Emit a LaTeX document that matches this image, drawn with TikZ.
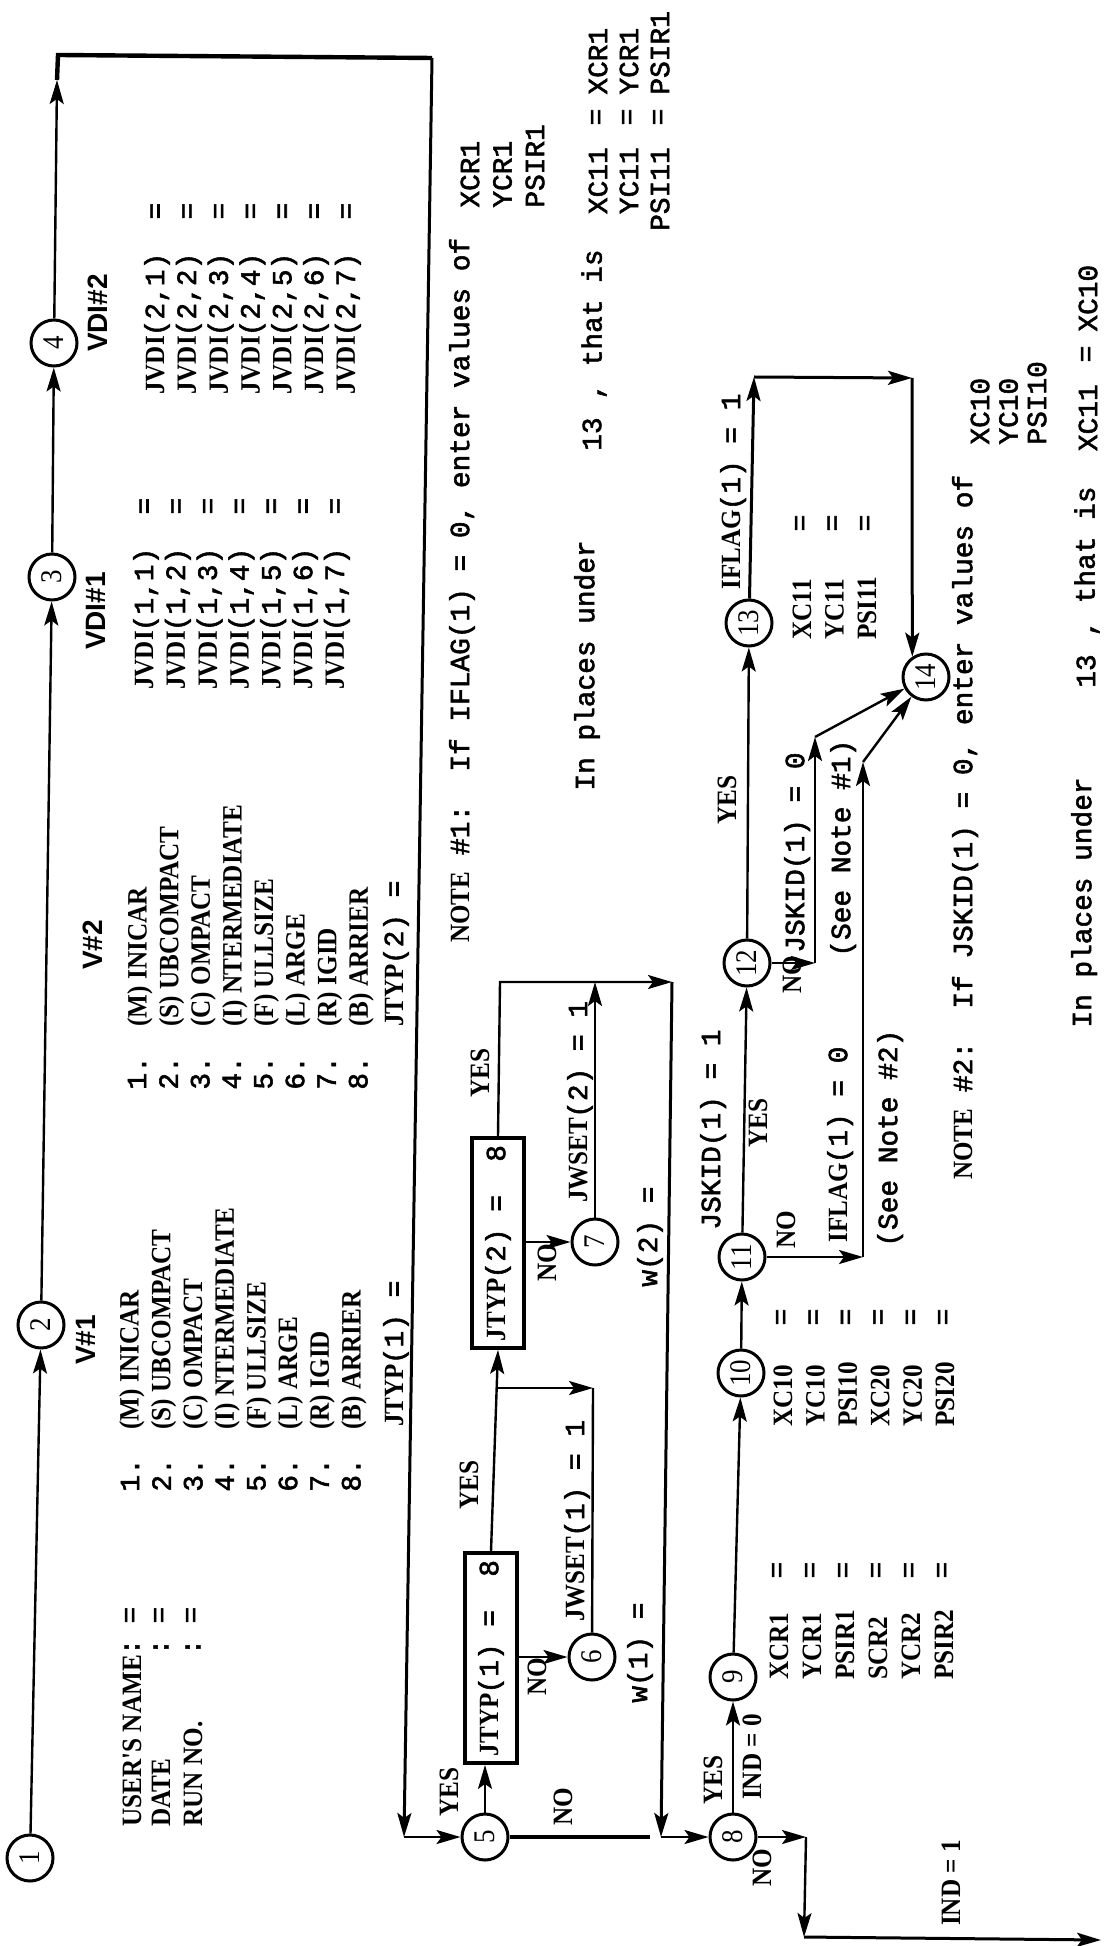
\documentclass[tikz,border=0pt]{standalone}
\usepackage{fontspec}
\usepackage{graphicx}
\usepackage{tikz}
\usetikzlibrary{arrows.meta,calc}
\newfontfamily\twfont[FakeBold=2]{Liberation Mono}
\newfontfamily\cndfont[FakeStretch=0.9]{Liberation Serif}
\newfontfamily\vdifont{Liberation Sans}
\newcommand{\cnd}[1]{{\cndfont\bfseries #1}}
\newcommand{\upr}[1]{\rotatebox{90}{#1}}
\tikzset{
  crc/.style={circle,draw,line width=1.5pt,minimum size=23pt,inner sep=0pt,
    font=\cndfont\fontsize{15}{15}\selectfont},
  cbox/.style={rectangle,draw,line width=1.9pt,minimum width=26pt,minimum height=105pt,
    inner sep=0pt,font=\twfont\fontsize{13.9}{16}\selectfont},
  ar/.style={-{Stealth[length=12pt,width=7pt,inset=2.5pt]},line width=1.2pt},
  ln/.style={line width=1.2pt},
  fr/.style={line width=2.2pt},
  tw/.style={rotate=90,anchor=west,inner sep=0pt,font=\twfont\fontsize{13.9}{16}\selectfont},
  cn/.style={rotate=90,inner sep=0pt,font=\cndfont\bfseries\fontsize{14}{16}\selectfont},
  vl/.style={rotate=90,inner sep=0pt,font=\vdifont\bfseries\fontsize{14}{16}\selectfont},
}
\begin{document}
\begin{tikzpicture}[x=0.5pt,y=-0.5pt]
  \fill[white] (0,0) rectangle (1104,1946);
  \path[use as bounding box] (0,0) rectangle (1104,1946);

  \foreach \n/\x/\y in {1/30/1858,2/41/1325,3/52/577,4/54/343,5/485/1837,6/592/1657,
      7/595/1242,8/733/1837,9/733/1677,10/741/1373,11/742/1257,12/747/963,13/749/623,14/926/677}
    \node[crc] (n\n) at (\x,\y) {\upr{\n}};
  \node[cbox] (b1) at (491,1658) {\upr{\cnd{JTYP}(1)~=~~8}};
  \node[cbox] (b2) at (498,1243) {\upr{\cnd{JTYP}(2)~=~~8}};

  \coordinate (c1a) at (57,80);
  \coordinate (c1) at (58,55);
  \coordinate (c2) at (432,58);
  \coordinate (c3) at (404,1837);
  \coordinate (k5) at (650,1837);
  \coordinate (j1) at (496,1388);
  \coordinate (j1r) at (593,1388);
  \coordinate (y2) at (500,982);
  \coordinate (w2) at (672,982);
  \coordinate (w1) at (661,1837);
  \coordinate (k8) at (806,1837);
  \coordinate (k8b) at (804,1937);
  \coordinate (k8c) at (1101,1940);
  \coordinate (k11) at (863,1257);
  \coordinate (k11b) at (863,762);
  \coordinate (k12) at (815,963);
  \coordinate (k12b) at (815,737);
  \coordinate (k13) at (754,377);
  \coordinate (k13b) at (912,378);

  \node[vl] at (86,1340) {V\#1};
  \node[vl] at (93,945) {V\#2};
  \node[vl] at (96,611) {VDI\#1};
  \node[vl] at (98,313) {VDI\#2};

  \foreach \t/\x in {USER'S NAME/132,DATE/161,RUN NO./193} {
    \node[cn,anchor=west] at (\x,1827) {\t};
    \node[tw,anchor=center] at (\x,1647) {:};
    \node[tw,anchor=center] at (\x,1615) {=};
  }
  \foreach \i in {1,...,8} {
    \node[tw] at ({130+31.6*(\i-1)},1492) {\i.};
    \node[tw] at ({137+31.6*(\i-1)},1090) {\i.};
  }
  \foreach \t [count=\i from 0] in {{(M) INICAR},{(S) UBCOMPACT},{(C) OMPACT},{(I) NTERMEDIATE},
      {(F) ULLSIZE},{(L) ARGE},{(R) IGID},{(B) ARRIER}} {
    \node[cn,anchor=west] at ({132+31.7*\i},1430) {\t};
    \node[cn,anchor=west] at ({140+31.6*\i},1027) {\t};
  }
  \node[tw] at (396,1427) {\cnd{JTYP}(1) =};
  \node[tw] at (396,1027) {\cnd{JTYP}(2) =};
  \foreach \j in {1,...,7} {
    \node[tw] at ({146+31.8*(\j-1)},690) {\cnd{JVDI}(1,\j)~~=};
    \node[tw] at ({157+31.8*(\j-1)},395) {\cnd{JVDI}(2,\j)~~=};
  }

  \node[tw] at (462,943) {\cnd{NOTE} \#1:~~If IFLAG(1) = 0, enter values of};
  \foreach \t [count=\i from 0] in {XCR1,YCR1,PSIR1}
    \node[tw] at ({470+32.5*\i},208) {\t};
  \node[tw] at (587,791) {In places under};
  \node[tw,anchor=center] at (592,434) {13};
  \node[tw] at (594,400) {, that is};
  \foreach \a/\b [count=\i from 0] in {XC11/XCR1,YC11/YCR1,PSI11/PSIR1} {
    \node[tw,anchor=east] at ({598+31*\i},147) {\a};
    \node[tw,anchor=center] at ({598+31*\i},117) {=};
    \node[tw] at ({598+31*\i},95) {\b};
  }

  \node[tw] at (965,1180) {\cnd{NOTE} \#2:~~If JSKID(1) = 0, enter values of};
  \foreach \t [count=\i from 0] in {XC10,YC10,PSI10}
    \node[tw] at ({980+28.5*\i},445) {\t};
  \node[tw] at (1084,1028) {In places under};
  \node[tw,anchor=center] at (1086,671) {13};
  \node[tw] at (1087,637) {, that is};
  \node[tw,anchor=east] at (1088,384) {XC11};
  \node[tw,anchor=center] at (1088,354) {=};
  \node[tw] at (1088,332) {XC10};

  \foreach \t [count=\i from 0] in {XC11,YC11,PSI11} {
    \node[cn,anchor=west] at ({802+32.5*\i},640) {\t};
    \node[tw,anchor=center] at ({802+32.5*\i},523) {=};
  }
  \foreach \t [count=\i from 0] in {XCR1,YCR1,PSIR1,SCR2,YCR2,PSIR2} {
    \node[cn,anchor=west] at ({779+33*\i},1680) {\t};
    \node[tw,anchor=center] at ({779+33*\i},1570) {=};
  }
  \foreach \t [count=\i from 0] in {XC10,YC10,PSI10,XC20,YC20,PSI20} {
    \node[cn,anchor=west] at ({783+32.4*\i},1427) {\t};
    \node[tw,anchor=center] at ({783+32.4*\i},1317) {=};
  }

  \foreach \x/\y in {469/1485,449/1792,480/1073,713/1780,758/1123,727/800}
    \node[cn] at (\x,\y) {YES};
  \foreach \x/\y in {537/1677,563/1807,547/1263,762/1868,786/1230,792/975}
    \node[cn] at (\x,\y) {NO};
  \node[cn] at (752,1757) {IND = 0};
  \node[cn] at (951,1883) {IND = 1};
  \node[tw] at (577,1622) {\cnd{JWSET}(1) = 1};
  \node[tw] at (580,1203) {\cnd{JWSET}(2) = 1};
  \node[tw] at (640,1703) {w(1) =};
  \node[tw] at (650,1287) {w(2) =};
  \node[tw] at (713,1230) {JSKID(1) = 1};
  \node[tw] at (797,953) {JSKID(1) = 0};
  \node[tw] at (843,957) {(See Note \#1)};
  \node[tw] at (840,1243) {\cnd{IFLAG}(1) = 0};
  \node[tw] at (890,1247) {(See Note \#2)};
  \node[tw] at (733,590) {\cnd{IFLAG}(1) = 1};

  \draw[ar] (n1) -- (n2);
  \draw[ar] (n2) -- (n3);
  \draw[ar] (n3) -- (n4);
  \draw[ar] (n4) -- (c1a);
  \draw[fr] (c1a) -- (c1) -- (c2);
  \draw[ar,line width=1.5pt] (c2) -- (c3);
  \draw[ar] (c3) -- (n5);
  \draw[fr] (n5) -- (k5);
  \draw[ar] (n5.north) -- (n5.north |- b1.south);
  \draw[ar] (b1.north) -- (b2.south);
  \draw[ar] (j1) -- (j1r);
  \draw[ln] (n6) -- (j1r);
  \draw[ar] (b1.east |- n6) -- (n6);
  \draw[ar] (b2.east |- n7) -- (n7);
  \draw[ar] (b2.north) -- (y2) -- (w2);
  \draw[ar] (n7) -- (n7 |- y2);
  \draw[ar,line width=1.5pt] (w2) -- (w1);
  \draw[ar] (w1) -- (n8);
  \draw[ar] (n8) -- (n9);
  \draw[ar] (n8) -- (k8);
  \draw[ar] (k8) -- (k8b);
  \draw[ar,line width=1.5pt] (k8b) -- (k8c);
  \draw[ar] (n9) -- (n10);
  \draw[ar] (n10) -- (n11);
  \draw[ar] (n11) -- (n12);
  \draw[ar] (n11) -- (k11);
  \draw[ar] (k11) -- (k11b);
  \draw[ar] (k11b) -- (n14);
  \draw[ar] (n12) -- (n13);
  \draw[ar] (n12) -- (k12);
  \draw[ar] (k12) -- (k12b);
  \draw[ar] (k12b) -- (n14);
  \draw[ar,line width=1.5pt] (n13) -- (k13);
  \draw[ar,line width=1.5pt] (k13) -- (k13b);
  \draw[ar,line width=1.5pt] (k13b) -- (n14.124);
\end{tikzpicture}
\end{document}
